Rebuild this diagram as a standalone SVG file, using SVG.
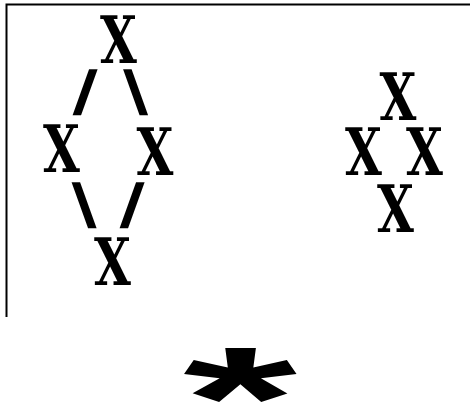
<svg xmlns="http://www.w3.org/2000/svg" width="470" height="405" viewBox="0 0 470 405">
<style>
.g{font-family:"DejaVu Serif","Liberation Serif",serif;font-weight:bold;font-size:66px;fill:#000;text-anchor:middle}
.s{font-family:"DejaVu Serif","Liberation Serif",serif;font-weight:bold;font-size:54px;fill:#000;stroke:#000;stroke-width:1.5;text-anchor:middle}
.ast{font-family:"Liberation Sans",Arial,sans-serif;font-weight:bold;font-size:292px;fill:#000;text-anchor:middle}
</style>
<rect width="470" height="405" fill="#fff"/>
<path d="M6.5,317 V4.5 H470" fill="none" stroke="#000" stroke-width="2"/>
<g id="left-top"><text class="g" transform="translate(118.5,63) scale(0.72,1)">X</text></g>
<g id="left-mid-l"><text class="g" transform="translate(61.5,172) scale(0.72,1)">X</text></g>
<g id="left-mid-r"><text class="g" transform="translate(155,175) scale(0.72,1)">X</text></g>
<g id="left-bottom"><text class="g" transform="translate(112.5,285) scale(0.72,1)">X</text></g>
<g id="right-top"><text class="g" transform="translate(398,120) scale(0.72,1)">X</text></g>
<g id="right-mid-l"><text class="g" transform="translate(363.5,175) scale(0.72,1)">X</text></g>
<g id="right-mid-r"><text class="g" transform="translate(424.5,175) scale(0.72,1)">X</text></g>
<g id="right-bottom"><text class="g" transform="translate(395.5,232) scale(0.72,1)">X</text></g>
<g id="connectors">
<text class="s" transform="translate(85,110) scale(1.15,1)">/</text>
<text class="s" transform="translate(135.5,110) scale(1.15,1)">\</text>
<text class="s" transform="translate(84,223) scale(1.15,1)">\</text>
<text class="s" transform="translate(132,223) scale(1.15,1)">/</text>
</g>
<g id="asterisk"><text class="ast" transform="translate(240,448) scale(1,0.498)">*</text></g>
</svg>
